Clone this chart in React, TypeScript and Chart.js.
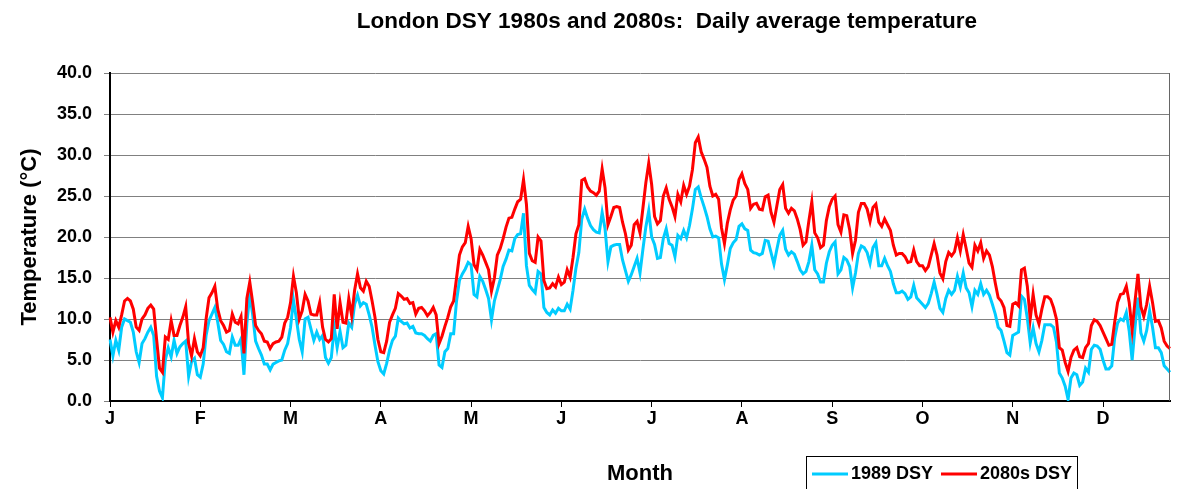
import React, { useEffect, useRef } from "react";
import { Chart, registerables } from "chart.js";

Chart.register(...registerables);

const TITLE = "London DSY 1980s and 2080s:  Daily average temperature";
const MONTH_LABELS = ["J", "F", "M", "A", "M", "J", "J", "A", "S", "O", "N", "D"];
const DAYS: number[] = Array.from({ length: 365 }, (_, i) => i + 1);
const Y_TICKS = [0, 5, 10, 15, 20, 25, 30, 35, 40];

const DSY1989: number[] = [
  7.5, 5.5, 7.4, 6.2, 9.0, 10.0, 9.8, 9.6, 8.4, 6.0,
  4.7, 7.0, 7.6, 8.4, 9.0, 8.0, 3.0, 1.2, 0.4, 5.0,
  6.5, 5.4, 7.4, 5.8, 6.6, 7.0, 7.3, 3.0, 4.8, 5.2,
  3.2, 2.9, 4.5, 8.0, 9.8, 10.6, 11.4, 9.6, 7.4, 6.9,
  6.0, 5.8, 7.8, 6.8, 6.8, 7.6, 3.2, 9.5, 13.0, 10.5,
  7.3, 6.4, 5.6, 4.5, 4.5, 3.8, 4.5, 4.7, 4.9, 5.0,
  6.2, 7.0, 9.0, 12.3, 10.0, 7.5, 6.0, 10.0, 10.2, 8.8,
  7.4, 8.4, 7.5, 8.0, 5.3, 4.6, 5.3, 9.0, 6.5, 8.5,
  6.5, 6.8, 9.5, 9.0, 11.8, 12.9, 11.6, 12.0, 11.8, 10.5,
  9.0, 6.8, 4.8, 3.7, 3.3, 4.6, 6.2, 7.4, 7.9, 10.1,
  9.7, 9.4, 9.5, 8.9, 9.1, 8.3, 8.2, 8.2, 8.0, 7.6,
  7.3, 8.0, 8.2, 4.4, 4.1, 6.0, 6.4, 8.2, 8.2, 12.2,
  14.7, 15.5, 16.1, 16.9, 16.6, 13.0, 12.7, 15.2, 14.6, 13.6,
  12.5, 9.9, 12.2, 13.5, 14.8, 16.4, 17.3, 18.4, 18.3, 19.8,
  20.3, 20.4, 22.9, 16.5, 14.1, 13.6, 13.2, 15.8, 15.5, 11.4,
  10.8, 10.5, 11.1, 10.7, 11.3, 11.0, 11.0, 11.8, 11.2, 13.5,
  16.2, 18.1, 22.2, 23.4, 22.3, 21.4, 20.9, 20.6, 20.5, 23.0,
  21.0, 17.0, 18.8, 19.0, 19.1, 19.1, 17.2, 15.9, 14.6, 15.4,
  16.4, 17.4, 15.6, 18.5, 21.2, 23.2, 20.0, 19.1, 17.4, 17.5,
  19.8, 21.0, 19.2, 19.0, 17.6, 20.2, 19.8, 20.8, 19.9, 21.4,
  23.4, 25.8, 26.1, 24.8, 23.7, 22.5, 21.0, 20.0, 20.1, 19.9,
  16.7, 14.8, 16.6, 18.6, 19.3, 19.7, 21.3, 21.6, 21.0, 20.8,
  18.4, 18.1, 18.0, 17.8, 18.0, 19.6, 19.5, 18.1, 16.7, 18.5,
  20.2, 20.8, 18.5, 17.8, 18.2, 17.9, 17.0, 16.0, 15.5, 15.8,
  17.0, 19.0, 16.0, 15.5, 14.5, 14.5, 16.8, 18.2, 19.0, 19.4,
  15.5, 16.0, 17.5, 17.2, 16.4, 13.8, 15.6, 18.0, 18.9, 18.7,
  18.1, 16.8, 18.7, 19.3, 16.5, 16.5, 17.4, 16.5, 15.8, 14.3,
  13.2, 13.2, 13.4, 13.1, 12.4, 12.7, 14.1, 12.6, 12.2, 11.8,
  11.4, 11.9, 13.1, 14.5, 13.0, 11.3, 10.8, 12.5, 13.5, 13.0,
  13.5, 15.2, 13.9, 15.6, 13.8, 13.2, 11.5, 13.5, 13.0, 14.3,
  13.0, 13.5, 12.9, 11.8, 10.6, 9.0, 8.6, 7.3, 5.9, 5.6,
  8.0, 8.2, 8.4, 12.8, 12.4, 10.1, 7.1, 8.9, 7.0, 6.0,
  7.4, 9.3, 9.3, 9.3, 9.0, 7.2, 3.4, 2.8, 1.8, 0.2,
  2.8, 3.4, 3.2, 1.9, 2.3, 4.0, 3.5, 6.3, 6.8, 6.7,
  6.3, 5.0, 3.9, 3.9, 4.3, 7.7, 9.5, 10.0, 9.8, 10.8,
  8.5, 5.0, 9.0, 12.6, 8.3, 7.3, 8.6, 11.0, 9.0, 6.5,
  6.5, 5.9, 4.3, 3.9, 3.5,
];

const DSY2080: number[] = [
  10.2, 8.4, 9.8, 9.0, 10.5, 12.2, 12.5, 12.2, 11.2, 9.0,
  8.6, 10.0, 10.5, 11.3, 11.7, 11.2, 7.5, 4.0, 3.5, 7.8,
  7.5, 9.8, 8.0, 8.0, 9.2, 10.2, 11.5, 7.0, 5.5, 7.6,
  6.0, 5.5, 6.5, 10.0, 12.6, 13.2, 14.0, 11.2, 9.8, 9.2,
  8.4, 8.6, 10.6, 9.6, 9.4, 10.3, 5.8, 12.5, 14.5, 12.0,
  9.2, 8.6, 8.2, 7.3, 7.2, 6.4, 7.0, 7.2, 7.3, 7.8,
  9.5, 10.2, 12.0, 15.2, 13.2, 10.0, 11.0, 13.0, 12.2, 10.6,
  10.5, 10.5, 12.0, 9.0, 7.5, 7.2, 7.6, 13.0, 8.8, 12.0,
  9.6, 9.5, 12.5, 10.4, 13.5, 15.5, 13.8, 13.4, 14.6, 14.0,
  12.2, 10.2, 7.5, 6.0, 5.9, 7.3, 9.6, 10.5, 11.3, 13.1,
  12.8, 12.4, 12.5, 11.9, 12.0, 10.6, 11.3, 11.4, 11.0, 10.4,
  10.8, 11.4, 10.5, 7.0, 7.9, 9.1, 10.2, 11.5, 12.2, 15.0,
  17.8, 18.8, 19.3, 21.3, 19.8, 16.6, 16.0, 18.5, 17.8, 16.9,
  16.0, 13.4, 15.0, 17.8, 18.6, 19.8, 21.2, 22.3, 22.4, 23.4,
  24.3, 24.6, 27.0, 24.0, 18.0, 17.1, 16.9, 20.0, 19.5, 14.7,
  13.7, 13.8, 14.3, 13.9, 15.1, 14.2, 14.5, 16.0, 15.1, 17.5,
  20.4, 21.5, 26.9, 27.1, 26.1, 25.6, 25.4, 25.1, 25.6, 28.3,
  26.0, 21.5, 22.5, 23.6, 23.7, 23.6, 21.8, 20.4, 18.4, 19.0,
  21.5, 21.9, 20.5, 23.5, 26.6, 29.0, 26.4, 22.5, 21.6, 22.0,
  25.0, 26.0, 24.6, 23.7, 22.5, 25.2, 24.3, 26.3, 25.2, 26.2,
  28.2, 31.5, 32.2, 30.4, 29.5, 28.5, 26.2, 25.0, 25.2, 24.6,
  21.1, 19.2, 21.7, 23.3, 24.5, 25.0, 27.0, 27.7, 26.5, 25.8,
  23.5, 24.0, 24.1, 23.4, 23.3, 24.9, 25.1, 23.0, 21.8, 23.8,
  25.8, 26.4, 23.5, 22.9, 23.5, 23.2, 22.2, 20.9, 19.0, 19.4,
  22.0, 24.3, 20.5, 19.9, 18.7, 19.0, 22.0, 23.7, 24.6, 25.0,
  21.5, 20.6, 22.7, 22.6, 20.9, 18.0, 19.6, 23.0, 24.1, 24.1,
  23.4, 21.9, 23.6, 24.0, 21.8, 21.3, 22.2, 21.5, 20.8, 19.0,
  17.8, 18.0, 18.0, 17.6, 16.9, 17.0, 18.4, 17.0, 16.5, 16.5,
  15.9, 16.4, 17.8, 19.2, 17.8, 15.6, 14.9, 17.0, 18.1, 17.7,
  18.2, 19.9, 18.3, 20.3, 18.6, 16.8, 16.3, 19.0, 18.3, 19.3,
  17.4, 18.3, 17.8, 16.4, 14.4, 12.6, 12.2, 11.4, 9.2, 9.1,
  11.8, 12.0, 11.6, 16.0, 16.2, 14.0, 10.0, 13.0, 10.5, 9.4,
  11.2, 12.7, 12.7, 12.4, 11.4, 10.0, 6.5, 6.2, 4.7, 3.6,
  5.3, 6.2, 6.5, 5.4, 5.3, 6.5, 7.0, 9.2, 9.9, 9.7,
  9.2, 8.4, 7.6, 6.8, 6.9, 9.6, 12.0, 13.0, 13.1, 14.0,
  12.0, 8.6, 12.2, 15.5, 11.5, 10.3, 11.8, 14.0, 12.0, 9.7,
  9.8, 8.9, 7.3, 6.7, 6.4,
];

const SERIES_NAMES = ["1989 DSY", "2080s DSY"];
const SERIES_COLORS = ["#00CCFF", "#FF0000"];
const FONT = '"Liberation Sans", Arial, sans-serif';

const overlayPlugin = {
  id: "overlay",
  afterDraw(chart: any) {
    const ctx = chart.ctx as CanvasRenderingContext2D;
    const a = chart.chartArea;
    ctx.save();
    // plot area right border
    ctx.strokeStyle = "#666666";
    ctx.lineWidth = 1;
    ctx.beginPath();
    ctx.moveTo(Math.round(a.right) - 0.5, a.top);
    ctx.lineTo(Math.round(a.right) - 0.5, a.bottom);
    ctx.stroke();
    // title
    ctx.fillStyle = "#000";
    ctx.font = `bold 22.5px ${FONT}`;
    ctx.textAlign = "center";
    ctx.textBaseline = "alphabetic";
    ctx.fillText(TITLE, 667, 28);
    // legend
    const lx = 806.5, ly = 456.5, lw = 271, lh = 44;
    ctx.fillStyle = "#fff";
    ctx.fillRect(lx, ly, lw, lh);
    ctx.strokeStyle = "#000";
    ctx.lineWidth = 1;
    ctx.strokeRect(lx, ly, lw, lh);
    const items = [
      { x0: 812, x1: 848, tx: 851 },
      { x0: 941, x1: 977, tx: 980 },
    ];
    ctx.font = `bold 18px ${FONT}`;
    ctx.textAlign = "left";
    ctx.textBaseline = "middle";
    items.forEach((it, i) => {
      ctx.strokeStyle = SERIES_COLORS[i];
      ctx.lineWidth = 3;
      ctx.beginPath();
      ctx.moveTo(it.x0, 474);
      ctx.lineTo(it.x1, 474);
      ctx.stroke();
      ctx.fillStyle = "#000";
      ctx.fillText(SERIES_NAMES[i], it.tx, 474);
    });
    ctx.restore();
  },
};

export default function App() {
  const ref = useRef<HTMLCanvasElement | null>(null);
  useEffect(() => {
    document.body.style.margin = "0";
    if (!ref.current) return;
    const chart = new Chart(ref.current, {
      type: "line",
      data: {
        labels: DAYS,
        datasets: [
          {
            label: SERIES_NAMES[0],
            data: DSY1989,
            borderColor: SERIES_COLORS[0],
            backgroundColor: SERIES_COLORS[0],
            borderWidth: 3,
            pointRadius: 0,
            tension: 0,
            fill: false,
            order: 1,
          },
          {
            label: SERIES_NAMES[1],
            data: DSY2080,
            borderColor: SERIES_COLORS[1],
            backgroundColor: SERIES_COLORS[1],
            borderWidth: 3,
            pointRadius: 0,
            tension: 0,
            fill: false,
            order: 0,
          },
        ],
      },
      options: {
        responsive: false,
        animation: false,
        devicePixelRatio: 1,
        layout: { padding: { left: 0, right: 10, top: 73, bottom: 0 } },
        plugins: {
          legend: { display: false },
          title: { display: false },
          tooltip: { enabled: false },
        },
        scales: {
          x: {
            type: "category",
            offset: false,
            afterFit: (s: any) => {
              s.height = 88;
            },
            border: { display: true, color: "#000", width: 2 },
            grid: {
              display: true,
              drawOnChartArea: false,
              drawTicks: true,
              tickLength: 6,
              color: "#000",
              lineWidth: 1,
            },
            ticks: {
              autoSkip: false,
              maxRotation: 0,
              minRotation: 0,
              padding: 1,
              color: "#000",
              font: { family: FONT, size: 18, weight: "bold" },
              callback: (_v: any, idx: number) =>
                idx % 31 === 0 && idx / 31 < MONTH_LABELS.length ? MONTH_LABELS[idx / 31] : null,
            },
            title: {
              display: true,
              text: "Month",
              color: "#000",
              font: { family: FONT, size: 22, weight: "bold" },
              padding: { top: 0, bottom: 2 },
            },
          },
          y: {
            min: Y_TICKS[0],
            max: Y_TICKS[Y_TICKS.length - 1],
            afterFit: (s: any) => {
              s.width = 110;
            },
            afterBuildTicks: (s: any) => {
              s.ticks = Y_TICKS.map((v) => ({ value: v }));
            },
            border: { display: true, color: "#000", width: 2 },
            grid: {
              color: "#808080",
              lineWidth: 1,
              drawTicks: true,
              tickLength: 6,
            },
            ticks: {
              padding: 12,
              color: "#000",
              font: { family: FONT, size: 18, weight: "bold" },
              callback: (v: any) => Number(v).toFixed(1),
            },
            title: {
              display: true,
              text: "Temperature (°C)",
              color: "#000",
              font: { family: FONT, size: 22, weight: "bold" },
              padding: { top: 17, bottom: 0 },
            },
          },
        },
      },
      plugins: [overlayPlugin],
    });
    return () => chart.destroy();
  }, []);
  return <canvas ref={ref} width={1180} height={489} style={{ display: "block" }} />;
}
